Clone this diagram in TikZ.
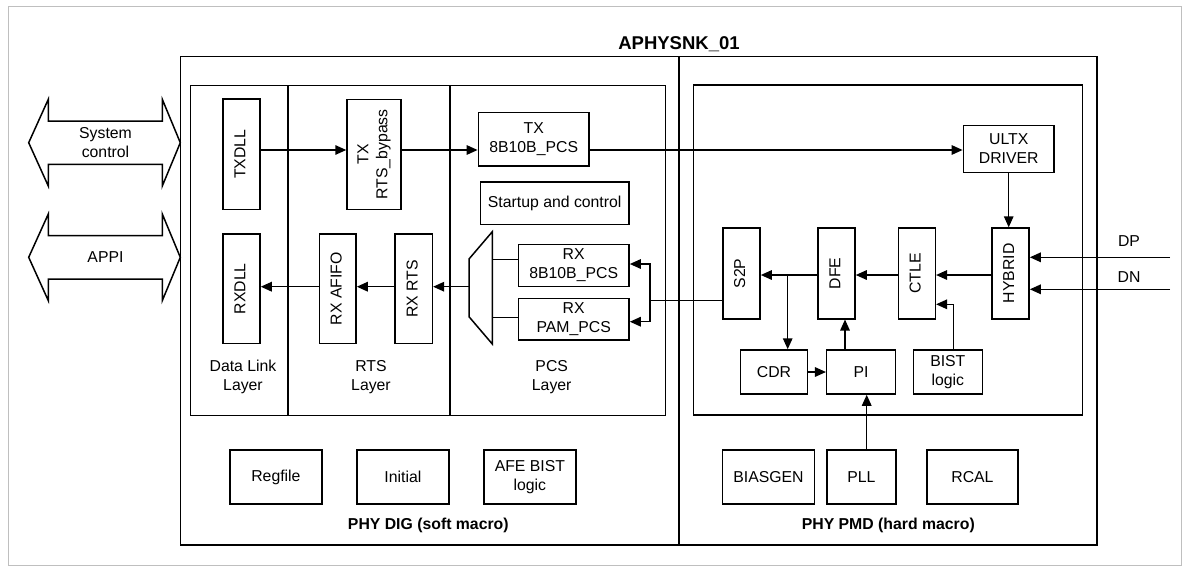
\documentclass[tikz,border=0pt]{standalone}
\usepackage{fontspec}
\setmainfont{Liberation Sans}
\usetikzlibrary{arrows.meta}
\newcommand\rot[1]{\rotatebox{90}{\begin{tabular}{@{}c@{}}#1\end{tabular}}}
\begin{document}
\begin{tikzpicture}[x=1pt,y=-1pt,
  font=\fontsize{15.8}{19}\selectfont,
  blk/.style={draw, line width=1.5pt, align=center, inner sep=0pt},
  lbl/.style={align=center, inner sep=0pt},
  ttl/.style={font=\fontsize{15.8}{19}\selectfont\bfseries, inner sep=0pt},
  arr/.style={line width=1.5pt, -{Triangle[length=11pt,width=9.5pt]}},
  ln/.style={line width=1.5pt},
  frame/.style={draw, line width=1.9pt},
]
\useasboundingbox (0,0) rectangle (1190,574);
\draw[black!25, line width=1pt] (8,6) rectangle (1181,565);

% frames
\draw[frame] (180.5,56.5) rectangle (1097,545);
\draw[frame] (679,56.5) -- (679,545);
\draw[ln] (190.3,85.3) rectangle (665.7,415.3);
\draw[ln] (288,85.3) -- (288,415.3);
\draw[ln] (450,85.3) -- (450,415.3);
\draw[ln] (693.3,85) rectangle (1082.7,415);

\node[ttl, font=\fontsize{18.5}{22}\selectfont\bfseries] (title) at (679,44) {APHYSNK\_01};
\node[ttl] (digl) at (428.3,525) {PHY DIG (soft macro)};
\node[ttl] (pmdl) at (888.3,525) {PHY PMD (hard macro)};

% double arrows
\draw[ln, line join=miter] (180.3,142.7) -- (162.3,99.3) -- (162.3,121) -- (48.3,121) -- (48.3,99.3) -- (28.7,142.7) -- (48.3,186) -- (48.3,164.3) -- (162.3,164.3) -- (162.3,186) -- cycle;
\node[lbl] (sysc) at (105.5,142.7) {System\\control};
\draw[ln, line join=miter] (180.3,257.3) -- (162.3,214) -- (162.3,235.6) -- (48.3,235.6) -- (48.3,214) -- (28.7,257.3) -- (48.3,300.6) -- (48.3,279) -- (162.3,279) -- (162.3,300.6) -- cycle;
\node[lbl] (appi) at (105.5,257.3) {APPI};

% DIG blocks
\node[blk, minimum width=37pt, minimum height=110.3pt] (txdll) at (241.5,154.2) {\rot{TXDLL}};
\node[blk, minimum width=37pt, minimum height=109.3pt] (rxdll) at (241.5,288.7) {\rot{RXDLL}};
\node[blk, minimum width=54pt, minimum height=110pt] (bypass) at (374,154.3) {\rot{TX\\RTS\_bypass}};
\node[blk, minimum width=36.7pt, minimum height=109.3pt] (afifo) at (337.7,288.7) {\rot{RX AFIFO}};
\node[blk, minimum width=37.3pt, minimum height=109.3pt] (rxrts) at (413.7,288.7) {\rot{RX RTS}};
\node[blk, minimum width=110.7pt, minimum height=53.7pt] (txpcs) at (533.7,139.2) {TX\\8B10B\_PCS};
\node[blk, minimum width=148.7pt, minimum height=42.3pt] (startup) at (554.7,203.2) {Startup and control};
\node[blk, minimum width=110.7pt, minimum height=42.4pt] (rx8) at (573.7,265.5) {RX\\8B10B\_PCS};
\node[blk, minimum width=110.7pt, minimum height=41.7pt] (rxpam) at (573.7,319.2) {RX\\PAM\_PCS};
\draw[ln] (492.3,231.7) -- (492.3,344) -- (469,316.7) -- (469,259) -- cycle;
\coordinate (muxout) at (469,286.7);
\coordinate (muxa) at (492.3,259.3);
\coordinate (muxb) at (492.3,317.7);

\node[lbl] (dll) at (243,377) {Data Link\\Layer};
\node[lbl] (rtsl) at (371,377) {RTS\\Layer};
\node[lbl] (pcsl) at (551.7,377) {PCS\\Layer};

\node[blk, minimum width=91.7pt, minimum height=54pt] (regfile) at (275.9,477) {Regfile};
\node[blk, minimum width=91.7pt, minimum height=54pt] (initial) at (402.9,477) {Initial};
\node[blk, minimum width=91.7pt, minimum height=54pt] (afebist) at (529.9,477) {AFE BIST\\logic};

% PMD blocks
\node[blk, minimum width=90.7pt, minimum height=46.6pt] (ultx) at (1008.7,149) {ULTX\\DRIVER};
\node[blk, minimum width=37.3pt, minimum height=90.7pt] (hybrid) at (1010.4,273.4) {\rot{HYBRID}};
\node[blk, minimum width=37pt, minimum height=90.7pt] (ctle) at (916.8,273.4) {\rot{CTLE}};
\node[blk, minimum width=37pt, minimum height=90.7pt] (dfe) at (836.5,273.4) {\rot{DFE}};
\node[blk, minimum width=37.3pt, minimum height=90.7pt] (s2p) at (741.4,273.4) {\rot{S2P}};
\node[blk, minimum width=66.6pt, minimum height=44pt] (cdr) at (774,372) {CDR};
\node[blk, minimum width=68.6pt, minimum height=44pt] (pi) at (861,372) {PI};
\node[blk, minimum width=69pt, minimum height=44pt] (bist) at (947.8,372) {BIST\\logic};
\node[blk, minimum width=91.6pt, minimum height=54pt] (biasgen) at (768.5,477) {BIASGEN};
\node[blk, minimum width=68.7pt, minimum height=54pt] (pll) at (861.4,477) {PLL};
\node[blk, minimum width=91.3pt, minimum height=54pt] (rcal) at (972.4,477) {RCAL};

\node[lbl] (dpl) at (1129,240.7) {DP};
\node[lbl] (dnl) at (1129,276.7) {DN};

% coordinates for connector rows / columns
\coordinate (ytx) at (0,150);
\coordinate (ya) at (0,264);
\coordinate (yb) at (0,321.7);
\coordinate (split) at (650,300.7);
\coordinate (ym) at (0,275);
\coordinate (br) at (787.7,275);
\coordinate (xpi) at (845,0);
\coordinate (xb) at (953.3,0);
\coordinate (yb2) at (0,304.3);
\coordinate (xp) at (866.7,0);
\coordinate (dp) at (1170,257.3);
\coordinate (dn) at (1170,289.3);

% TX path
\draw[arr] (txdll.east |- ytx) -- (bypass.west |- ytx);
\draw[arr] (bypass.east |- ytx) -- (txpcs.west |- ytx);
\draw[arr] (txpcs.east |- ytx) -- (ultx.west |- ytx);
\draw[arr] (ultx.south) -- (ultx.south |- hybrid.north);

% RX path
\draw[arr] (muxout) -- (rxrts.east |- muxout);
\draw[arr] (rxrts.west |- muxout) -- (afifo.east |- muxout);
\draw[arr] (afifo.west |- muxout) -- (rxdll.east |- muxout);
\draw[ln] (rx8.west |- muxa) -- (muxa);
\draw[ln] (rxpam.west |- muxb) -- (muxb);
\draw[ln] (s2p.west |- split) -- (split);
\draw[arr] (split) |- (rx8.east |- ya);
\draw[arr] (split) |- (rxpam.east |- yb);

\draw[arr] (dp) -- (hybrid.east |- dp);
\draw[arr] (dn) -- (hybrid.east |- dn);
\draw[arr] (hybrid.west |- ym) -- (ctle.east |- ym);
\draw[arr] (ctle.west |- ym) -- (dfe.east |- ym);
\draw[arr] (dfe.west |- ym) -- (s2p.east |- ym);
\draw[arr] (br) -- (br |- cdr.north);
\draw[arr] (cdr.east) -- (pi.west);
\draw[arr] (pi.north -| xpi) -- (dfe.south -| xpi);
\draw[arr] (bist.north -| xb) |- (ctle.east |- yb2);
\draw[arr] (pll.north -| xp) -- (pi.south -| xp);
\end{tikzpicture}
\end{document}
